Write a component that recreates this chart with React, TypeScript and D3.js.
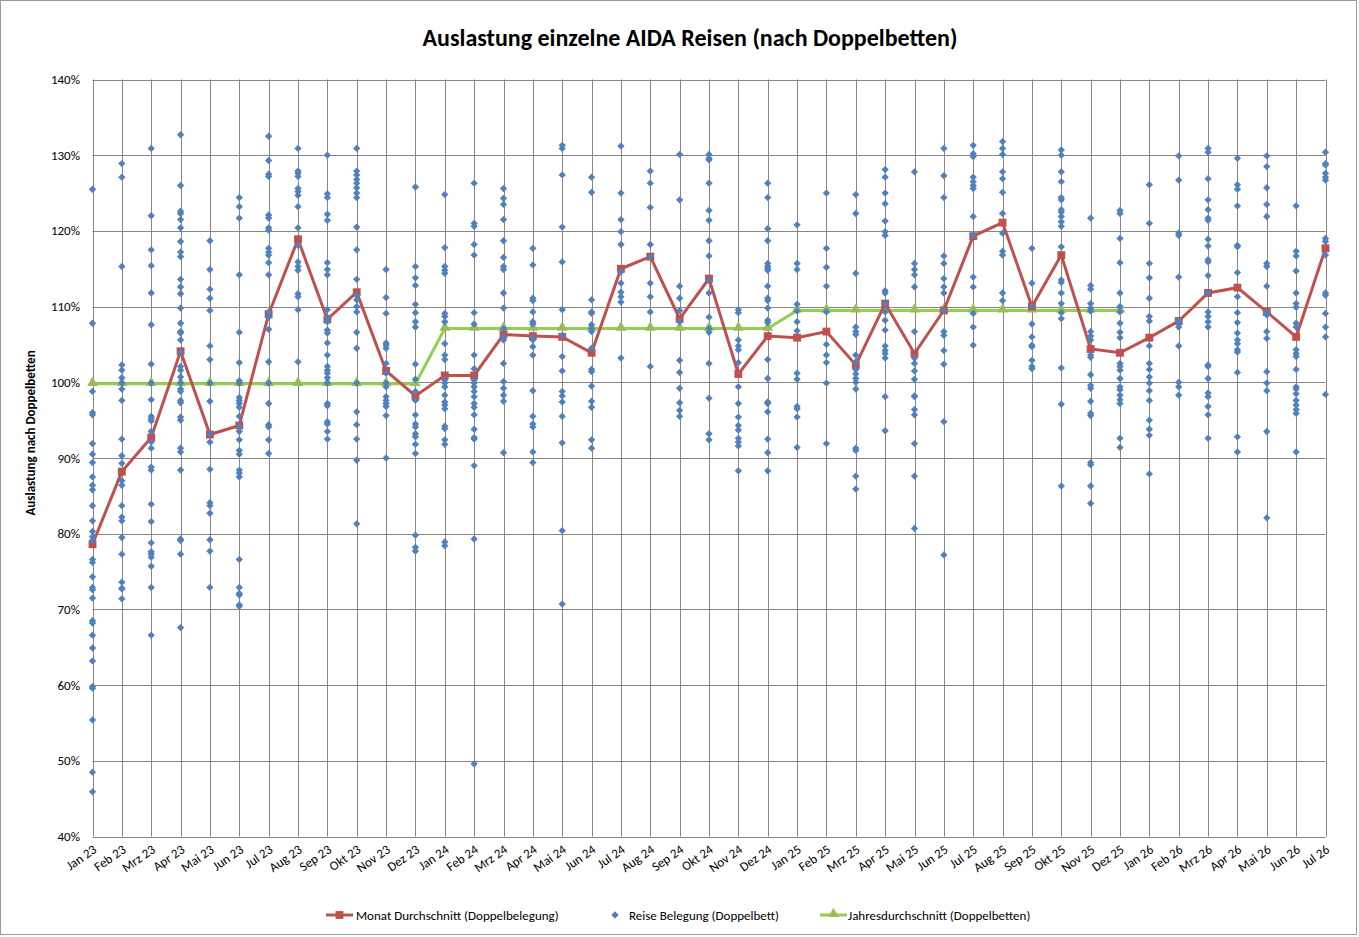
import * as d3 from "d3";

// Kategorien (Monate)
const monate = [
  "Jan 23", "Feb 23", "Mrz 23", "Apr 23", "Mai 23", "Jun 23", "Jul 23", "Aug 23", "Sep 23", "Okt 23", "Nov 23", "Dez 23",
  "Jan 24", "Feb 24", "Mrz 24", "Apr 24", "Mai 24", "Jun 24", "Jul 24", "Aug 24", "Sep 24", "Okt 24", "Nov 24", "Dez 24",
  "Jan 25", "Feb 25", "Mrz 25", "Apr 25", "Mai 25", "Jun 25", "Jul 25", "Aug 25", "Sep 25", "Okt 25", "Nov 25", "Dez 25",
  "Jan 26", "Feb 26", "Mrz 26", "Apr 26", "Mai 26", "Jun 26", "Jul 26",
];

const yTicks = [40, 50, 60, 70, 80, 90, 100, 110, 120, 130, 140];

// Monat Durchschnitt (Doppelbelegung), in %
const monatDurchschnitt = [
  78.6, 88.2, 92.7, 104.1, 93.1, 94.3, 109.0, 118.9, 108.3, 111.9, 101.5, 98.2,
  100.9, 100.9, 106.3, 106.1, 106.0, 103.9, 115.0, 116.6, 108.4, 113.7, 101.1, 106.1,
  105.9, 106.7, 102.3, 110.4, 103.8, 109.5, 119.3, 121.1, 110.0, 116.8, 104.4, 103.9,
  105.9, 108.1, 111.8, 112.5, 109.3, 106.0, 117.7,
];

// Jahresdurchschnitt (Doppelbetten), in % (2026 ohne Wert)
const jahresDurchschnitt: (number | null)[] = [
  99.8, 99.8, 99.8, 99.8, 99.8, 99.8, 99.8, 99.8, 99.8, 99.8, 99.8, 99.8,
  107.1, 107.1, 107.1, 107.1, 107.1, 107.1, 107.1, 107.1, 107.1, 107.1, 107.1, 107.1,
  109.5, 109.5, 109.5, 109.5, 109.5, 109.5, 109.5, 109.5, 109.5, 109.5, 109.5, 109.5,
  null, null, null, null, null, null, null,
];

// Reise Belegung (Doppelbett), eine Zeile je Monat, in %
const reiseBelegung: number[][] = [
  [125.5, 107.8, 98.8, 96.0, 95.7, 91.9, 90.5, 89.4, 87.5, 86.4, 85.8, 83.7, 81.7, 80.3, 79.6, 79.1, 76.6, 76.2, 74.3, 72.9, 72.6, 71.5, 68.5, 68.2, 66.6, 64.9, 63.2, 59.8, 59.6, 55.4, 48.5, 45.9],
  [128.9, 127.1, 115.3, 102.3, 101.6, 100.6, 99.9, 99.1, 97.6, 92.5, 90.3, 89.3, 87.0, 86.4, 83.7, 82.2, 81.7, 79.5, 77.3, 73.6, 72.8, 72.7, 71.4],
  [130.9, 122.0, 117.5, 115.4, 111.8, 107.6, 102.4, 99.9, 97.7, 95.5, 95.2, 94.9, 93.5, 92.1, 91.3, 88.8, 88.4, 83.9, 81.6, 78.8, 77.6, 77.3, 76.9, 75.7, 72.9, 66.6],
  [132.7, 126.0, 122.6, 122.3, 121.5, 120.4, 118.6, 117.2, 116.6, 113.6, 112.6, 111.7, 109.8, 107.8, 106.7, 106.5, 105.6, 104.0, 102.1, 101.6, 100.7, 99.9, 99.1, 98.8, 97.6, 97.3, 95.4, 95.0, 91.3, 90.8, 88.4, 79.3, 79.1, 77.3, 67.6],
  [118.7, 114.9, 112.3, 111.1, 109.5, 104.8, 103.0, 99.9, 97.5, 93.2, 92.1, 88.5, 84.1, 83.7, 82.7, 79.2, 77.7, 72.9],
  [124.4, 123.2, 121.7, 114.2, 106.6, 102.6, 100.2, 99.9, 98.0, 97.6, 97.2, 96.7, 95.5, 94.2, 93.5, 92.4, 91.0, 90.5, 88.4, 88.0, 87.5, 76.6, 72.9, 72.1, 71.9, 70.6, 70.4],
  [132.5, 129.3, 127.5, 127.2, 122.1, 121.7, 120.4, 120.1, 117.7, 117.2, 116.8, 115.8, 114.2, 109.3, 108.6, 107.0, 102.7, 99.9, 97.2, 94.4, 94.1, 92.4, 90.6],
  [130.9, 127.9, 127.6, 127.2, 125.6, 125.2, 124.7, 123.2, 120.4, 118.1, 115.9, 115.3, 114.8, 111.7, 111.3, 109.6, 102.7],
  [130.0, 124.9, 124.4, 122.2, 121.4, 115.8, 114.9, 114.2, 109.6, 108.6, 108.0, 106.9, 106.5, 105.2, 103.6, 102.1, 101.6, 101.2, 100.6, 99.9, 97.2, 96.9, 94.8, 94.5, 93.5, 92.5],
  [130.9, 127.9, 127.4, 126.8, 126.3, 125.7, 125.0, 124.4, 120.5, 117.5, 113.6, 111.5, 110.9, 110.0, 109.3, 106.6, 104.5, 99.9, 96.1, 94.4, 92.5, 89.7, 81.3],
  [114.9, 111.2, 109.1, 105.2, 104.9, 104.5, 102.5, 101.2, 99.9, 99.4, 98.1, 97.6, 97.2, 96.8, 95.6, 90.0],
  [125.8, 115.3, 113.8, 112.8, 110.3, 109.2, 108.0, 107.3, 102.4, 100.4, 98.8, 97.6, 95.7, 94.5, 94.1, 93.2, 92.8, 91.8, 90.6, 79.8, 78.2, 77.7],
  [124.8, 117.8, 115.3, 114.8, 114.4, 109.1, 108.7, 108.0, 105.1, 103.6, 103.0, 100.3, 99.9, 99.4, 98.3, 97.4, 97.0, 96.5, 94.2, 93.9, 92.4, 91.8, 78.9, 78.4],
  [126.3, 121.0, 120.6, 118.2, 116.8, 109.2, 107.7, 103.6, 101.8, 100.3, 99.9, 99.4, 98.8, 98.1, 97.2, 96.7, 95.7, 93.8, 92.7, 92.5, 89.0, 79.3, 49.6],
  [125.6, 124.3, 123.5, 121.5, 118.7, 116.5, 115.3, 114.9, 111.8, 109.8, 107.1, 106.0, 105.6, 102.5, 100.1, 99.2, 98.3, 97.5, 90.7],
  [117.7, 115.5, 111.1, 110.8, 109.3, 108.0, 107.7, 106.0, 105.6, 104.7, 103.6, 98.9, 95.5, 94.5, 94.1, 90.8, 89.4],
  [131.3, 130.9, 127.4, 120.5, 115.9, 109.6, 106.2, 103.4, 101.5, 98.8, 98.2, 97.4, 95.5, 92.0, 80.4, 70.7],
  [127.1, 125.1, 110.9, 109.3, 109.1, 107.6, 107.1, 106.7, 104.5, 101.7, 101.4, 99.5, 97.5, 96.7, 92.4, 91.3],
  [131.2, 125.0, 121.5, 119.9, 118.2, 114.6, 113.1, 111.9, 111.3, 110.6, 103.2],
  [127.9, 126.3, 123.1, 118.2, 116.6, 113.1, 111.3, 109.3, 102.1],
  [130.1, 124.1, 112.7, 111.1, 109.5, 108.0, 102.9, 101.3, 99.2, 97.3, 96.3, 95.5],
  [130.1, 129.6, 129.4, 126.3, 122.7, 121.4, 118.7, 116.7, 113.4, 111.8, 108.6, 107.1, 106.6, 102.5, 97.9, 93.2, 92.4],
  [109.6, 109.2, 105.6, 104.8, 104.3, 102.6, 99.4, 97.2, 95.4, 94.3, 93.7, 92.6, 92.1, 91.6, 88.3],
  [126.3, 124.4, 120.3, 118.7, 115.7, 115.3, 115.0, 114.8, 112.7, 111.1, 110.8, 109.8, 108.2, 107.9, 103.0, 100.5, 97.4, 97.2, 96.1, 92.5, 90.7, 88.3],
  [120.8, 115.7, 114.9, 110.3, 109.4, 108.0, 106.8, 101.2, 100.4, 96.8, 96.5, 95.4, 91.4],
  [125.0, 117.7, 115.2, 112.7, 109.3, 105.0, 103.6, 102.6, 99.9, 91.9],
  [124.8, 122.3, 114.4, 107.3, 106.7, 106.3, 103.6, 102.7, 101.7, 101.1, 100.5, 100.0, 99.1, 91.3, 91.0, 87.6, 85.9],
  [128.1, 127.1, 125.0, 123.6, 121.3, 119.9, 119.4, 112.1, 111.8, 110.4, 109.3, 108.2, 106.9, 104.8, 104.2, 103.8, 103.2, 98.1, 93.6],
  [127.8, 115.7, 114.9, 114.2, 112.6, 106.7, 103.2, 102.5, 101.5, 100.4, 98.2, 98.1, 96.4, 95.7, 91.9, 87.6, 80.7],
  [130.9, 127.3, 124.4, 116.7, 115.7, 113.7, 112.6, 111.8, 109.5, 106.7, 106.2, 104.2, 102.4, 94.8, 77.2],
  [131.3, 130.2, 129.8, 127.1, 126.5, 126.0, 125.6, 121.9, 119.4, 113.9, 112.6, 109.1, 107.3, 104.9],
  [131.8, 130.9, 130.1, 127.8, 126.9, 125.1, 122.3, 119.7, 117.3, 116.8, 111.8, 110.8],
  [117.7, 113.1, 110.0, 107.7, 106.0, 104.9, 104.7, 102.9, 102.1, 101.8],
  [130.7, 130.0, 127.8, 126.5, 124.4, 124.1, 122.8, 122.5, 121.9, 121.2, 120.6, 117.9, 113.5, 113.2, 111.8, 110.4, 109.2, 108.4, 101.9, 97.1, 86.3],
  [121.7, 112.8, 112.3, 110.4, 109.8, 109.4, 106.7, 106.1, 105.6, 103.6, 103.3, 101.0, 99.6, 99.2, 97.5, 95.9, 95.6, 89.4, 89.1, 86.3, 84.0],
  [122.7, 122.3, 119.0, 115.8, 111.8, 110.0, 109.3, 107.8, 106.6, 105.9, 102.5, 102.1, 101.6, 100.5, 99.4, 99.0, 98.3, 97.7, 97.2, 92.6, 91.4],
  [126.1, 121.0, 115.7, 113.8, 111.1, 108.7, 108.1, 104.8, 102.5, 101.7, 100.7, 99.9, 98.9, 97.6, 95.0, 93.8, 93.0, 87.9],
  [129.9, 126.7, 119.7, 119.4, 113.9, 108.2, 107.7, 107.3, 104.8, 100.0, 99.4, 98.3],
  [130.9, 130.4, 126.9, 124.1, 122.8, 121.7, 121.4, 118.9, 118.0, 116.2, 115.9, 114.1, 111.8, 109.3, 108.7, 108.0, 107.3, 102.3, 102.1, 100.5, 98.6, 98.1, 96.8, 95.7, 92.6],
  [129.6, 126.1, 125.5, 123.3, 118.1, 117.9, 114.5, 111.3, 109.2, 107.9, 106.5, 105.6, 105.1, 104.3, 104.0, 101.3, 92.8, 90.8],
  [129.9, 128.5, 125.7, 123.5, 121.9, 115.7, 115.3, 112.7, 109.2, 108.9, 106.7, 105.8, 101.4, 99.9, 98.9, 93.5, 82.1],
  [123.3, 117.3, 116.7, 114.7, 111.8, 110.4, 109.9, 107.8, 107.3, 104.3, 103.8, 103.4, 101.7, 99.4, 99.1, 98.5, 97.6, 97.0, 96.4, 95.9, 90.8],
  [130.4, 128.9, 128.7, 127.6, 127.1, 126.7, 119.0, 118.6, 116.8, 111.8, 111.5, 109.1, 107.3, 106.0, 98.4],
];

const W = 1359;
const H = 937;
const FONT = "Carlito, Lato, 'Open Sans', sans-serif";
const RED = "#C0504D";
const BLUE = "#4F81BD";
const GREEN_LINE = "#92D050";
const GREEN_MARK = "#9BBB59";
const GRID = "#868686";

const App = () => {
  const x = d3.scalePoint<string>().domain(monate).range([92.5, 1325.5]);
  const y = d3.scaleLinear().domain([40, 140]).range([836.5, 79.5]);

  const redLine = d3
    .line<number>()
    .x((_, i) => x(monate[i]) ?? 0)
    .y((d) => y(d));

  const greenLine = d3
    .line<number | null>()
    .defined((d) => d !== null)
    .x((_, i) => x(monate[i]) ?? 0)
    .y((d) => y(d as number));

  const square = d3.symbol(d3.symbolSquare, 62)();
  const diamond = d3.symbol(d3.symbolDiamond2, 34)();
  const triangle = d3.symbol(d3.symbolTriangle, 50)();

  const points = reiseBelegung.flatMap((vals, i) => vals.map((v) => ({ m: monate[i], v })));

  return (
    <svg
      width={W}
      height={H}
      style={{ position: "absolute", left: 0, top: 0, background: "#fff" }}
      fontFamily={FONT}
    >
      <rect x={0.5} y={0.5} width={W - 3} height={H - 3} fill="#fff" stroke="#9a9a9a" />

      <text x={690} y={46} textAnchor="middle" fontSize={24} fontWeight="bold" fill="#000">
        Auslastung einzelne AIDA Reisen (nach Doppelbetten)
      </text>

      {/* Gitter */}
      <g stroke={GRID} strokeWidth={1}>
        {yTicks.map((t) => (
          <line key={t} x1={92.5} x2={1325.5} y1={Math.round(y(t)) + 0.5} y2={Math.round(y(t)) + 0.5} />
        ))}
        {monate.map((m) => (
          <line key={m} x1={Math.round(x(m) ?? 0) + 0.5} x2={Math.round(x(m) ?? 0) + 0.5} y1={y(140)} y2={y(40)} />
        ))}
      </g>

      {/* Y-Achse */}
      <g fontSize={13} fill="#000">
        {yTicks.map((t) => (
          <text key={t} x={80} y={y(t) + 4.5} textAnchor="end">
            {t}%
          </text>
        ))}
      </g>
      <text
        transform={`translate(35,${y(90) - 25}) rotate(-90)`}
        textAnchor="middle"
        fontSize={13}
        fontWeight="bold"
        fill="#000"
      >
        Auslastung nach Doppelbetten
      </text>

      {/* X-Achse */}
      <g fontSize={13} fill="#000">
        {monate.map((m) => (
          <text key={m} transform={`translate(${(x(m) ?? 0) + 5},${y(40) + 15}) rotate(-35)`} textAnchor="end">
            {m}
          </text>
        ))}
      </g>

      {/* Jahresdurchschnitt */}
      <path d={greenLine(jahresDurchschnitt) ?? ""} fill="none" stroke={GREEN_LINE} strokeWidth={3} />
      {jahresDurchschnitt.map((v, i) =>
        v === null ? null : (
          <path key={i} d={triangle} transform={`translate(${x(monate[i])},${y(v) - 1})`} fill={GREEN_MARK} />
        )
      )}

      {/* Monat Durchschnitt */}
      <path d={redLine(monatDurchschnitt) ?? ""} fill="none" stroke={RED} strokeWidth={3} />
      {monatDurchschnitt.map((v, i) => (
        <path key={i} d={square} transform={`translate(${x(monate[i])},${y(v)})`} fill={RED} />
      ))}

      {/* Reise Belegung */}
      {points.map((p, i) => (
        <path key={i} d={diamond} transform={`translate(${x(p.m)},${y(p.v)})`} fill={BLUE} />
      ))}

      {/* Legende */}
      <g fontSize={13} fill="#000">
        <line x1={326} x2={353} y1={915} y2={915} stroke={RED} strokeWidth={3} />
        <path d={square} transform="translate(339.5,915)" fill={RED} />
        <text x={356} y={919.5}>Monat Durchschnitt (Doppelbelegung)</text>

        <path d={diamond} transform="translate(615,915)" fill={BLUE} />
        <text x={629} y={919.5}>Reise Belegung (Doppelbett)</text>

        <line x1={820} x2={847} y1={915} y2={915} stroke={GREEN_LINE} strokeWidth={3} />
        <path d={triangle} transform="translate(833.5,914)" fill={GREEN_MARK} />
        <text x={848} y={919.5}>Jahresdurchschnitt (Doppelbetten)</text>
      </g>
    </svg>
  );
};

export default App;
